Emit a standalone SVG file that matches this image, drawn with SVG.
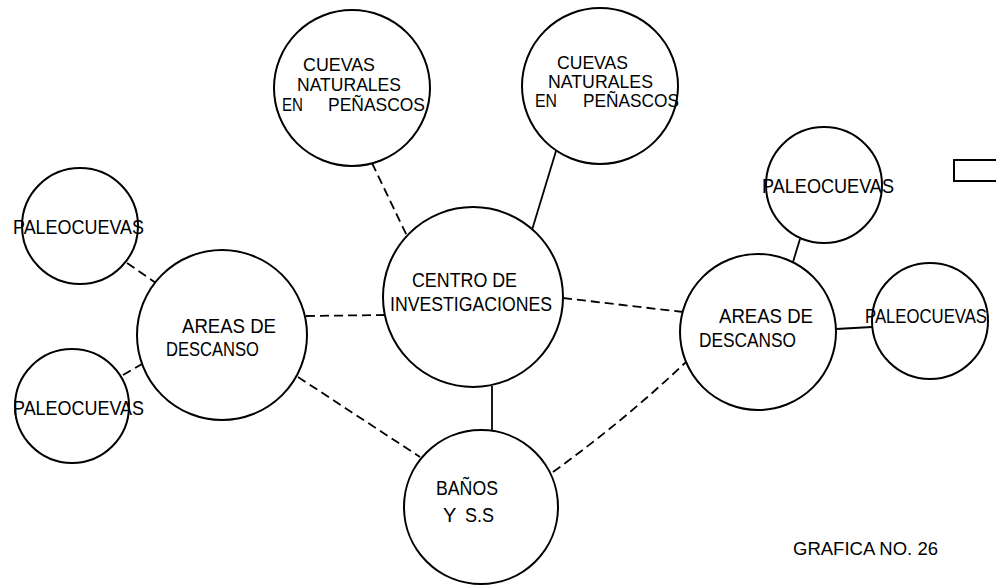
<svg xmlns="http://www.w3.org/2000/svg" width="996" height="587" viewBox="0 0 996 587">
<style>
  .n { fill: #fff; stroke: #000; stroke-width: 2; }
  .t { font-family: "Liberation Sans", Arial, sans-serif; font-size: 20px; fill: #000; }
  .s { font-size: 18px; }
  .c { fill: none; stroke: #000; stroke-width: 1.8; }
  .d { stroke-dasharray: 9 5; }
  .g { font-family: "Liberation Sans", Arial, sans-serif; font-size: 18.5px; fill: #000; }
</style>
<rect width="996" height="587" fill="#fff"/>
<g id="connectors">
  <line class="c d" x1="372" y1="163" x2="407" y2="236"/>
  <line class="c" x1="556" y1="151" x2="532" y2="230"/>
  <line class="c d" x1="563" y1="298" x2="683" y2="312"/>
  <line class="c d" x1="306" y1="316" x2="385" y2="315"/>
  <line class="c d" x1="298" y1="377" x2="420" y2="457"/>
  <line class="c" x1="492" y1="386" x2="492" y2="430"/>
  <path class="c d" d="M553,472 Q625,420 686,362"/>
  <line class="c d" x1="127" y1="263" x2="156" y2="283"/>
  <line class="c d" x1="123" y1="375" x2="142" y2="364"/>
  <line class="c" x1="800" y1="239" x2="793" y2="262"/>
  <line class="c" x1="836" y1="329" x2="872" y2="327"/>
</g>
<g id="cuevas1">
  <circle class="n" cx="352" cy="88" r="78"/>
  <text class="t s" x="303" y="71" textLength="72" lengthAdjust="spacingAndGlyphs">CUEVAS</text>
  <text class="t s" x="297" y="91" textLength="104" lengthAdjust="spacingAndGlyphs">NATURALES</text>
  <text class="t s" y="111"><tspan x="282" textLength="21" lengthAdjust="spacingAndGlyphs">EN</tspan><tspan x="328" textLength="97" lengthAdjust="spacingAndGlyphs">PEÑASCOS</tspan></text>
</g>
<g id="cuevas2">
  <circle class="n" cx="600" cy="86" r="78"/>
  <text class="t s" x="557" y="69" textLength="71" lengthAdjust="spacingAndGlyphs">CUEVAS</text>
  <text class="t s" x="548" y="88" textLength="105" lengthAdjust="spacingAndGlyphs">NATURALES</text>
  <text class="t s" y="107"><tspan x="535" textLength="22" lengthAdjust="spacingAndGlyphs">EN</tspan><tspan x="583" textLength="96" lengthAdjust="spacingAndGlyphs">PEÑASCOS</tspan></text>
</g>
<g id="centro">
  <circle class="n" cx="473" cy="297" r="90"/>
  <text class="t" x="412" y="287" textLength="105" lengthAdjust="spacingAndGlyphs">CENTRO  DE</text>
  <text class="t" x="390" y="311" textLength="162" lengthAdjust="spacingAndGlyphs">INVESTIGACIONES</text>
</g>
<g id="areas-left">
  <circle class="n" cx="222" cy="335" r="85"/>
  <text class="t" x="182" y="333" textLength="94" lengthAdjust="spacingAndGlyphs">AREAS  DE</text>
  <text class="t" x="166" y="356" textLength="93" lengthAdjust="spacingAndGlyphs">DESCANSO</text>
</g>
<g id="paleo-tl">
  <circle class="n" cx="80" cy="226" r="58"/>
  <text class="t" x="13" y="234" textLength="131" lengthAdjust="spacingAndGlyphs">PALEOCUEVAS</text>
</g>
<g id="paleo-bl">
  <circle class="n" cx="72" cy="406" r="57"/>
  <text class="t" x="13" y="415" textLength="131" lengthAdjust="spacingAndGlyphs">PALEOCUEVAS</text>
</g>
<g id="areas-right">
  <circle class="n" cx="758" cy="332" r="78"/>
  <text class="t" x="719" y="323" textLength="94" lengthAdjust="spacingAndGlyphs">AREAS  DE</text>
  <text class="t" x="699" y="347" textLength="97" lengthAdjust="spacingAndGlyphs">DESCANSO</text>
</g>
<g id="paleo-tr">
  <circle class="n" cx="824" cy="185" r="58"/>
  <text class="t" x="762" y="193" textLength="132" lengthAdjust="spacingAndGlyphs">PALEOCUEVAS</text>
</g>
<g id="paleo-r">
  <circle class="n" cx="930" cy="321" r="58"/>
  <text class="t" x="865" y="323" textLength="122" lengthAdjust="spacingAndGlyphs">PALEOCUEVAS</text>
</g>
<g id="banos">
  <circle class="n" cx="481" cy="507" r="77"/>
  <text class="t" x="436" y="495" textLength="62" lengthAdjust="spacingAndGlyphs">BAÑOS</text>
  <text class="t" y="522"><tspan x="443">Y</tspan><tspan x="465" textLength="29" lengthAdjust="spacingAndGlyphs">S.S</tspan></text>
</g>
<g id="marker-box">
  <rect x="954" y="160" width="50" height="21" fill="none" stroke="#000" stroke-width="2"/>
</g>
<text class="g" x="793" y="555">GRAFICA NO. 26</text>
</svg>
